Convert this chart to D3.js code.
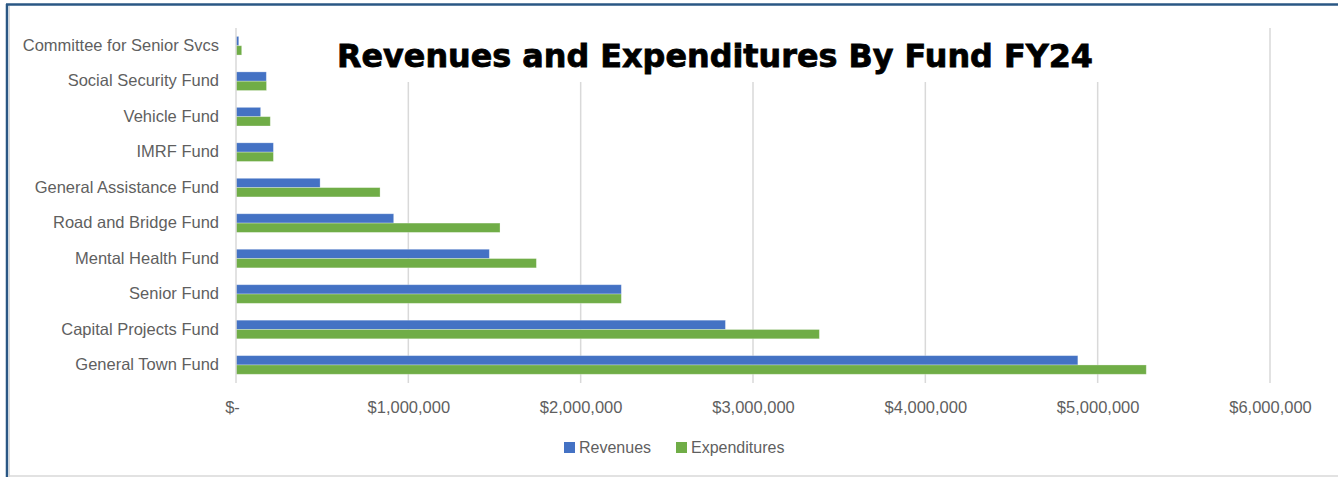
<!DOCTYPE html>
<html>
<head>
<meta charset="utf-8">
<script src="https://cdn.jsdelivr.net/npm/d3@7/dist/d3.min.js"></script>
<style>
  html, body { margin: 0; padding: 0; background: #fff; }
  svg { display: block; }
</style>
</head>
<body>
<svg id="chart" width="1338" height="477"></svg>
<script>
// Funds, listed top to bottom as they appear on the chart
const funds = [
  "Committee for Senior Svcs",
  "Social Security Fund",
  "Vehicle Fund",
  "IMRF Fund",
  "General Assistance Fund",
  "Road and Bridge Fund",
  "Mental Health Fund",
  "Senior Fund",
  "Capital Projects Fund",
  "General Town Fund"
];

// FY24 revenues and expenditures per fund (dollars)
const revenues = [16000, 176000, 143000, 217000, 488000, 915000, 1470000, 2236000, 2840000, 4885000];
const expenditures = [33000, 177000, 199000, 217000, 836000, 1532000, 1743000, 2236000, 3385000, 5282000];

const seriesNames = ["Revenues", "Expenditures"];
const seriesColors = ["#4472C4", "#70AD47"];
const xTicks = [0, 1000000, 2000000, 3000000, 4000000, 5000000, 6000000];
const titleText = "Revenues and Expenditures By Fund FY24";

const svg = d3.select("#chart");
const W = 1338, H = 477;
const labelFont = "'Liberation Sans', Arial, sans-serif";
const labelColor = "#5f5f5f";

// frame
svg.append("line").attr("x1", 6).attr("x2", W).attr("y1", 4.5).attr("y2", 4.5)
  .attr("stroke", "#2a5784").attr("stroke-width", 2.5);
svg.append("line").attr("x1", 7).attr("x2", 7).attr("y1", 4).attr("y2", H)
  .attr("stroke", "#2a5784").attr("stroke-width", 2.5);
svg.append("line").attr("x1", 9.5).attr("x2", 9.5).attr("y1", 6).attr("y2", H)
  .attr("stroke", "#d9d9d9").attr("stroke-width", 1);
svg.append("line").attr("x1", 8).attr("x2", W).attr("y1", 476).attr("y2", 476)
  .attr("stroke", "#d9d9d9").attr("stroke-width", 1.5);

const x = d3.scaleLinear().domain([0, 6000000]).range([236, 1270]);
const y = d3.scaleBand().domain(funds).range([28, 382.7])
  .paddingInner(0.475).paddingOuter(0.2375);
const ySeries = d3.scaleBand().domain(seriesNames).range([0, y.bandwidth()]);

// vertical gridlines
svg.append("g").selectAll("line").data(xTicks.slice(1)).join("line")
  .attr("x1", d => x(d)).attr("x2", d => x(d))
  .attr("y1", 28).attr("y2", 383)
  .attr("stroke", "#d9d9d9").attr("stroke-width", 1.5);

// bottom axis (labels only)
const xAxis = svg.append("g").attr("transform", "translate(0,383)")
  .call(d3.axisBottom(x).tickValues(xTicks).tickSize(0).tickPadding(18)
    .tickFormat(d => d === 0 ? "$-" : "$" + d3.format(",")(d)));
xAxis.select(".domain").remove();
xAxis.selectAll("text")
  .attr("font-family", labelFont).attr("font-size", 16.5).attr("fill", labelColor)
  .attr("dx", d => d === 0 ? -4 : 0);

// bars
const rows = funds.map((f, i) => ({ fund: f, values: [revenues[i], expenditures[i]] }));
const groups = svg.append("g").selectAll("g").data(rows).join("g")
  .attr("transform", d => `translate(0,${y(d.fund)})`);
groups.selectAll("rect")
  .data(d => d.values.map((v, k) => ({ key: seriesNames[k], value: v, color: seriesColors[k] })))
  .join("rect")
  .attr("x", x(0))
  .attr("y", d => ySeries(d.key))
  .attr("width", d => x(d.value) - x(0))
  .attr("height", ySeries.bandwidth())
  .attr("fill", d => d.color)
  .attr("stroke", "rgba(255,255,255,0.35)").attr("stroke-width", 0.8);

// vertical category axis
const yAxis = svg.append("g").attr("transform", "translate(236,0)")
  .call(d3.axisLeft(y).tickSize(0).tickPadding(17));
yAxis.select(".domain").attr("stroke", "#d9d9d9").attr("stroke-width", 1.5)
  .attr("d", "M0,28V383");
yAxis.selectAll("text")
  .attr("font-family", labelFont).attr("font-size", 16.5).attr("fill", labelColor);

// title on its own white box
svg.append("rect").attr("x", 300).attr("y", 22).attr("width", 840).attr("height", 60)
  .attr("fill", "#fff");
svg.append("text")
  .attr("x", 337).attr("y", 66.7)
  .attr("textLength", 756).attr("lengthAdjust", "spacingAndGlyphs")
  .attr("font-family", "'DejaVu Sans', Verdana, sans-serif")
  .attr("font-weight", "bold").attr("font-size", 32)
  .attr("fill", "#000").attr("stroke", "#000").attr("stroke-width", 0.8)
  .text(titleText);

// legend
const legendX = [564, 676];
const legend = svg.append("g").selectAll("g").data(seriesNames).join("g")
  .attr("transform", (d, i) => `translate(${legendX[i]},442)`);
legend.append("rect").attr("width", 11).attr("height", 11)
  .attr("fill", (d, i) => seriesColors[i]);
legend.append("text").attr("x", 15).attr("y", 10.5)
  .attr("font-family", labelFont).attr("font-size", 16).attr("fill", labelColor)
  .text(d => d);
</script>
</body>
</html>
